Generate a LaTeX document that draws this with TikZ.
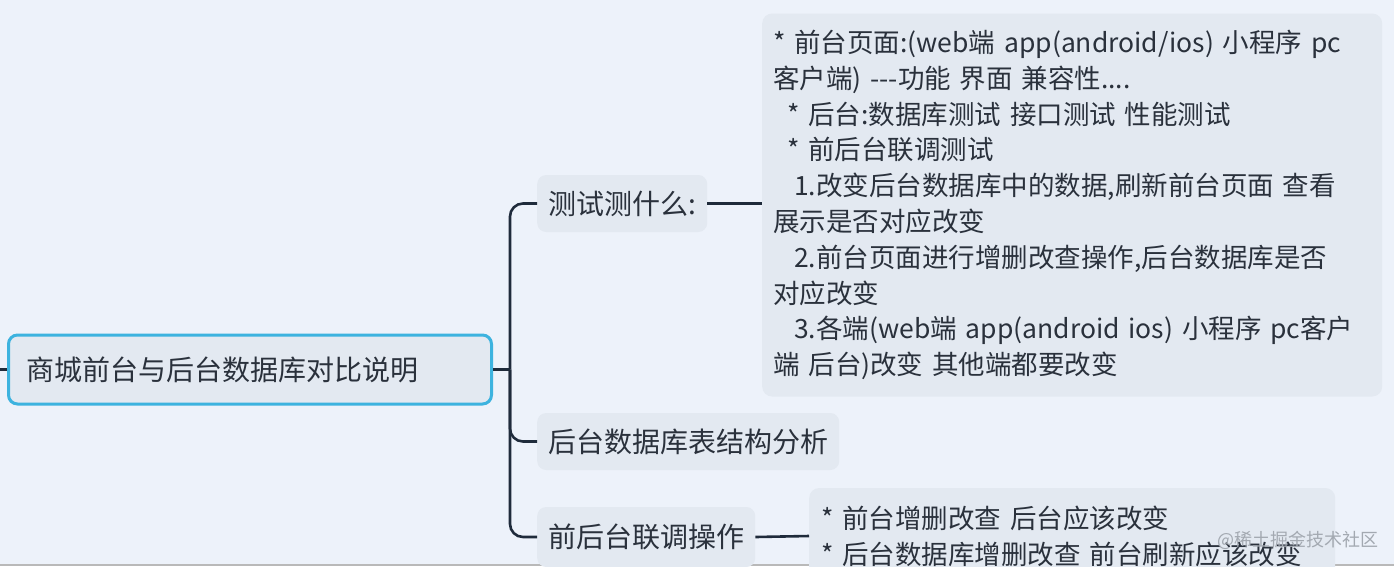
\documentclass[tikz,border=0pt]{standalone}
\usepackage{fontspec}
\newfontfamily\cjk{Noto Sans CJK SC}
\definecolor{bgc}{HTML}{EDF2FA}
\definecolor{boxc}{HTML}{E3E9F1}
\definecolor{linec}{HTML}{1F2B3B}
\definecolor{txtc}{HTML}{2A313C}
\definecolor{rootc}{HTML}{3DB3DF}
\definecolor{wmc}{HTML}{A3A9B1}
\tikzset{
  topic/.style={fill=boxc, rounded corners=9pt, text=txtc, inner xsep=11pt, inner ysep=0pt,
    font=\cjk\fontsize{28}{33}\selectfont},
  rootbox/.style={topic, draw=rootc, line width=3pt, inner xsep=18pt},
  detail/.style={fill=boxc, rounded corners=10pt, text=txtc, align=left, inner ysep=0pt,
    font=\cjk\fontsize{26.5}{35.8}\selectfont},
  conn/.style={draw=linec, line width=2.6pt, rounded corners=13pt},
}
\begin{document}
\begin{tikzpicture}[x=1pt,y=-1pt]
\useasboundingbox (0,0) rectangle (1394,566);
\clip (0,0) rectangle (1394,566);
\fill[bgc] (0,0) rectangle (1394,566);
\fill[gray!55] (0,563.5) rectangle (1394,566);

\node[rootbox, anchor=west, minimum width=483pt, minimum height=69pt, text width=447pt, align=left] (root) at (7,369.5) {商城前台与后台数据库对比说明};

\node[topic, anchor=west, minimum width=170pt, minimum height=57pt] (b1) at (537,203.5) {测试测什么:};
\node[topic, anchor=west, minimum width=301pt, minimum height=57pt] (b2) at (537,441.5) {后台数据库表结构分析};
\node[topic, anchor=west, minimum width=218pt, minimum height=60pt] (b3) at (537,537) {前后台联调操作};

\node[detail, anchor=west, text width=598pt, inner xsep=11pt, minimum height=383pt] (d1) at (762,205) {%
\mbox{* 前台页面:(web端 app(android/ios) 小程序 pc}\\
\mbox{客户端) ---功能 界面 兼容性....}\\
\mbox{\hspace*{14pt}* 后台:数据库测试 接口测试 性能测试}\\
\mbox{\hspace*{14pt}* 前后台联调测试}\\
\mbox{\hspace*{21pt}1.改变后台数据库中的数据,刷新前台页面 查看}\\
\mbox{展示是否对应改变}\\
\mbox{\hspace*{21pt}2.前台页面进行增删改查操作,后台数据库是否}\\
\mbox{对应改变}\\
\mbox{\hspace*{21pt}3.各端(web端 app(android ios) 小程序 pc客户}\\
\mbox{端 后台)改变 其他端都要改变}};

\node[detail, anchor=west, text width=502pt, inner xsep=12pt, minimum height=96pt] (d2) at (809,536) {%
\mbox{* 前台增删改查 后台应该改变}\\
\mbox{* 后台数据库增删改查 前台刷新应该改变}};

\node[font=\cjk\fontsize{18}{20}\selectfont, text=wmc, anchor=east, inner sep=0pt] (wm) at (1379,540) {@稀土掘金技术社区};

\coordinate (lstub) at (0,369.5);
\coordinate (jn) at (510,369.5);
\draw[conn] (lstub) -- (root.west);
\draw[conn] (root.east) -- (jn);
\draw[conn] (jn) -- (jn |- b1.west) -- (b1.west);
\draw[conn] (jn) -- (jn |- b2.west) -- (b2.west);
\draw[conn] (jn) -- (jn |- b3.west) -- (b3.west);
\draw[conn] (b1.east) -- (d1.west |- b1.east);
\draw[conn] (b3.east) -- (d2.west);
\end{tikzpicture}
\end{document}
